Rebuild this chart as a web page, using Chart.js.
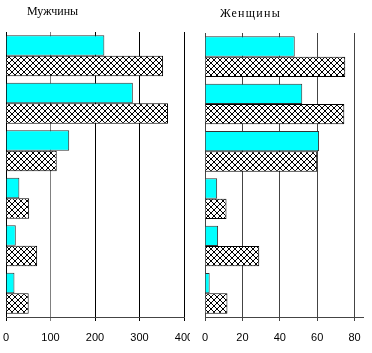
<!DOCTYPE html>
<html>
<head>
<meta charset="utf-8">
<script src="https://cdn.jsdelivr.net/npm/chart.js@4"></script>
<style>
  html, body { margin:0; padding:0; background:#fff; }
  #wrap { position:relative; width:372px; height:353px; overflow:hidden; }
  #leftBox { position:absolute; left:0; top:0; width:190px; height:353px; overflow:hidden; }
  #rightBox { position:absolute; left:190px; top:0; width:182px; height:353px; }
  .ttl { position:absolute; font-family:"Liberation Serif", serif; font-size:12px; color:#000; white-space:nowrap; }
</style>
</head>
<body>
<div id="wrap">
  <div id="leftBox"><canvas id="men" width="210" height="353"></canvas></div>
  <div id="rightBox"><canvas id="women" width="182" height="353"></canvas></div>
  <div class="ttl" style="left:27px; top:4px;">Мужчины</div>
  <div class="ttl" style="left:220px; top:6px; letter-spacing:1.3px;">Женщины</div>
</div>
<script>
const categories = ["1", "2", "3", "4", "5", "6"];
const menCyan   = [221, 285, 142, 30, 22, 19];
const menHatch  = [353, 364, 114, 52, 70, 51];
const womenCyan  = [48, 52, 61, 6.5, 7, 2.5];
const womenHatch = [75, 74.5, 60, 11.5, 29, 12];
const menTicks   = [0, 100, 200, 300, 400];
const womenTicks = [0, 20, 40, 60, 80];

// Crosshatch fill
function hatch(){
  const c = document.createElement("canvas");
  c.width = 6; c.height = 6;
  const g = c.getContext("2d");
  g.fillStyle = "#fff";
  g.fillRect(0, 0, 6, 6);
  g.strokeStyle = "#000";
  g.lineWidth = 1;
  g.beginPath();
  g.moveTo(0, 0); g.lineTo(6, 6);
  g.moveTo(6, 0); g.lineTo(0, 6);
  g.stroke();
  return g.createPattern(c, "repeat");
}
const pat = hatch();

function makeChart(id, cyan, hatched, ticks, max, padding, gridColor){
  return new Chart(document.getElementById(id), {
    type: "bar",
    data: {
      labels: categories,
      datasets: [
        { data: cyan, backgroundColor: "#00ffff", borderColor: "#333", borderWidth: 1 },
        { data: hatched, backgroundColor: pat, borderColor: "#000", borderWidth: 1 }
      ]
    },
    options: {
      indexAxis: "y",
      responsive: false,
      animation: false,
      layout: { padding: padding },
      categoryPercentage: 0.86,
      barPercentage: 1.0,
      plugins: { legend: { display: false }, tooltip: { enabled: false } },
      scales: {
        x: {
          min: 0, max: max,
          afterBuildTicks: s => { s.ticks = ticks.map(v => ({ value: v })); },
          afterFit: s => { s.height = 36; s.paddingLeft = 0; s.paddingRight = 0; },
          grid: { color: gridColor, lineWidth: 1, tickLength: 4 },
          border: { color: "#444" },
          ticks: { color: "#000", padding: 10, font: { family: "Liberation Sans", size: 11 } }
        },
        y: { display: false }
      }
    }
  });
}

makeChart("men", menCyan, menHatch, menTicks, 400,
  { left: 6, right: 26, top: 32, bottom: 0 },
  ctx => ctx.tick && ctx.tick.value === 100 ? "#808080" : "#000");
makeChart("women", womenCyan, womenHatch, womenTicks, 84.5,
  { left: 15, right: 9, top: 33, bottom: 0 },
  ctx => "#444");
</script>
</body>
</html>
